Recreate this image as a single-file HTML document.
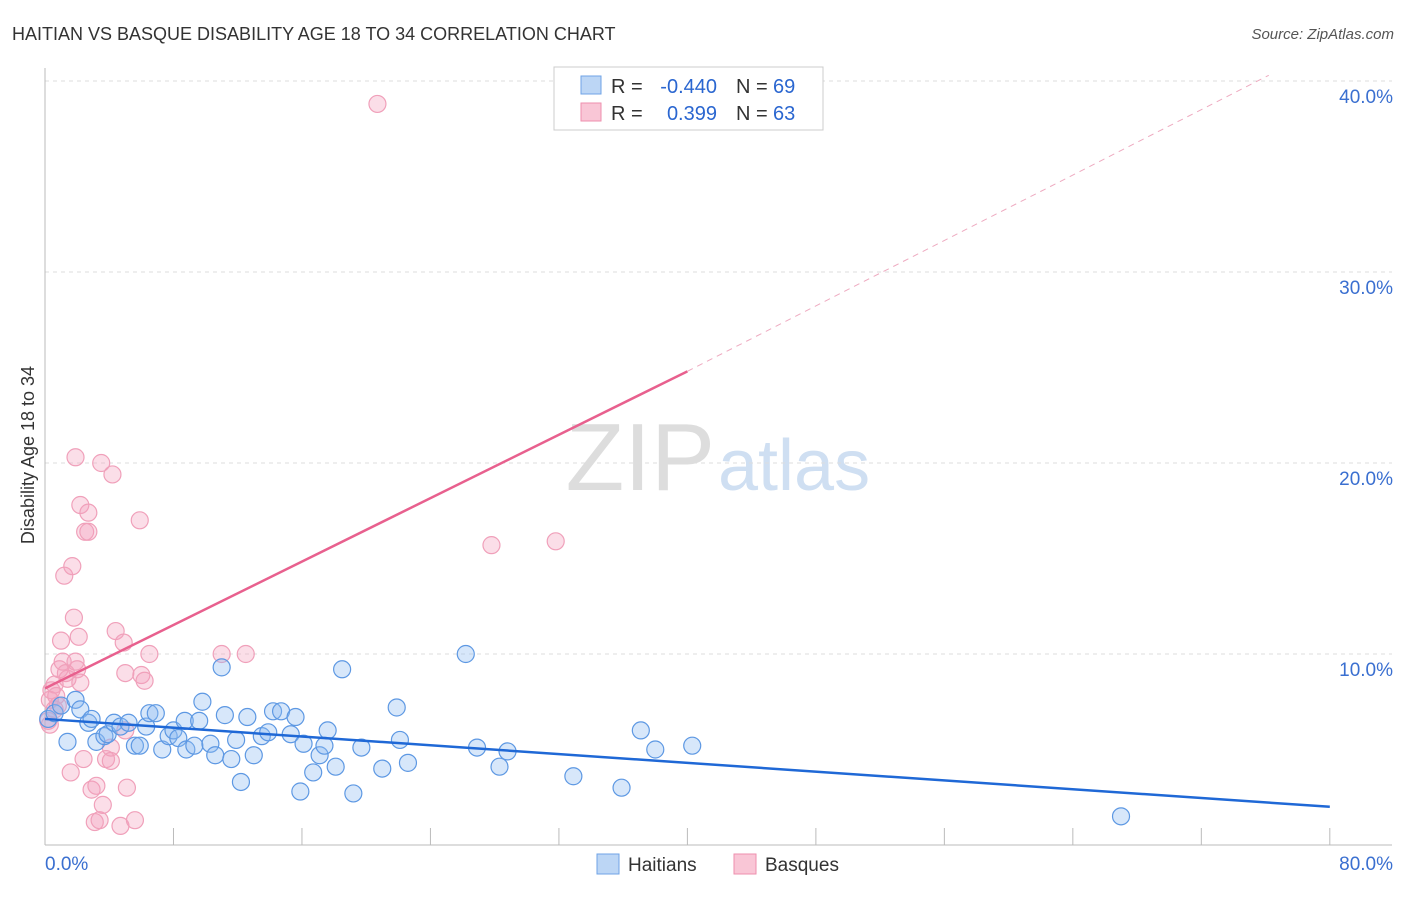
<!DOCTYPE html>
<html><head><meta charset="utf-8"><style>
body{margin:0;background:#fff;font-family:"Liberation Sans",sans-serif}
svg text{font-family:"Liberation Sans",sans-serif}
</style></head><body>
<svg width="1406" height="892" xmlns="http://www.w3.org/2000/svg" id="chart">
<text x="12" y="40" font-size="18" fill="#333">HAITIAN VS BASQUE DISABILITY AGE 18 TO 34 CORRELATION CHART</text>
<text x="1394" y="39" font-size="15" fill="#555" font-style="italic" text-anchor="end">Source: ZipAtlas.com</text>
<text x="715" y="490" font-size="96" fill="#ddd" text-anchor="end" font-family="Liberation Serif">ZIP</text>
<text x="718" y="490" font-size="72" fill="#cfdff2">atlas</text>
<g id="grid"></g><g id="axes"></g>
<text transform="translate(34,455) rotate(-90)" font-size="18" fill="#333" text-anchor="middle">Disability Age 18 to 34</text>
<g id="marks"></g>
<g>
<rect x="554" y="67" width="269" height="63" fill="#fff" stroke="#ccc"/>
<rect x="581" y="76" width="20" height="18" fill="#bcd6f5" stroke="#6fa3e6"/>
<rect x="581" y="103" width="20" height="18" fill="#f9c6d6" stroke="#ee8fae"/>
<text x="611" y="93" font-size="20" fill="#333">R =</text>
<text x="717" y="93" font-size="20" fill="#2a66d0" text-anchor="end">-0.440</text>
<text x="736" y="93" font-size="20" fill="#333">N =</text>
<text x="773" y="93" font-size="20" fill="#2a66d0">69</text>
<text x="611" y="120" font-size="20" fill="#333">R =</text>
<text x="717" y="120" font-size="20" fill="#2a66d0" text-anchor="end">0.399</text>
<text x="736" y="120" font-size="20" fill="#333">N =</text>
<text x="773" y="120" font-size="20" fill="#2a66d0">63</text>
</g>
<g>
<rect x="597" y="854" width="22" height="20" fill="#bcd6f5" stroke="#6fa3e6"/>
<text x="628" y="871" font-size="19" fill="#333">Haitians</text>
<rect x="734" y="854" width="22" height="20" fill="#f9c6d6" stroke="#ee8fae"/>
<text x="765" y="871" font-size="19" fill="#333">Basques</text>
</g>
</svg>
<script>
const NS="http://www.w3.org/2000/svg";
const yTicks=[10,20,30,40];
const yTickLabels=["10.0%","20.0%","30.0%","40.0%"];
const xTickLabels=["0.0%","80.0%"];
const blueX=[0.2,0.6,1,1.4,1.9,2.2,2.7,2.9,3.2,3.7,3.9,4.3,4.7,5.2,5.6,5.9,6.3,6.5,6.9,7.3,7.7,8,8.3,8.7,8.8,9.3,9.6,9.8,10.3,10.6,11,11.2,11.6,11.9,12.2,12.6,13,13.5,13.9,14.2,14.7,15.3,15.6,15.9,16.1,16.7,17.1,17.4,17.6,18.1,18.5,19.2,19.7,21,21.9,22.1,22.6,26.2,26.9,28.3,28.8,32.9,35.9,37.1,38,40.3,67];
const blueY=[6.6,6.9,7.3,5.4,7.6,7.1,6.4,6.6,5.4,5.7,5.8,6.4,6.2,6.4,5.2,5.2,6.2,6.9,6.9,5,5.7,6,5.6,6.5,5,5.2,6.5,7.5,5.3,4.7,9.3,6.8,4.5,5.5,3.3,6.7,4.7,5.7,5.9,7,7,5.8,6.7,2.8,5.3,3.8,4.7,5.2,6,4.1,9.2,2.7,5.1,4,7.2,5.5,4.3,10,5.1,4.1,4.9,3.6,3,6.0,5.0,5.2,1.5];
const pinkX=[20.7,0.2,0.3,0.4,0.6,0.8,0.9,1.0,1.1,1.2,1.4,1.6,1.7,1.8,1.9,2.0,2.1,2.2,2.2,2.4,2.5,2.7,2.7,2.9,3.1,3.2,3.4,3.5,3.6,3.8,4.1,4.1,4.2,4.4,4.7,4.9,5.0,5.0,5.1,5.6,5.9,6.0,6.2,6.5,11,12.5,27.8,31.8,0.3,0.6,0.7,1.3,1.9];
const pinkY=[38.8,6.5,7.6,8.1,8.4,7.3,9.2,10.7,9.6,14.1,8.7,3.8,14.6,11.9,20.3,9.2,10.9,17.8,8.5,4.5,16.4,16.4,17.4,2.9,1.2,3.1,1.3,20.0,2.1,4.5,5.1,4.4,19.4,11.2,1.0,10.6,9.0,6.0,3.0,1.3,17.0,8.9,8.6,10.0,10.0,10.0,15.7,15.9,6.3,7.1,7.8,9.0,9.6];
const blueLine=[[0,6.6],[80,2.0]];
const pinkLine=[[0,8.2],[40,24.8]];
const pinkDash=[[40,24.8],[76.2,40.3]];
const X=v=>45+v*16.06, Y=v=>845-v*19.1;
function mk(t,a,p){const e=document.createElementNS(NS,t);for(const k in a)e.setAttribute(k,a[k]);(p||document.getElementById('marks')).appendChild(e);return e;}
const grid=document.getElementById('grid'),axes=document.getElementById('axes');
yTicks.forEach((t,i)=>{const l=mk('line',{x1:45,x2:1392,y1:Y(t),y2:Y(t),stroke:'#ddd','stroke-dasharray':'4,4'},grid);


const tx=mk('text',{x:1393,y:Y(t)+22,'font-size':19,fill:'#3a6fd0','text-anchor':'end'},axes);tx.textContent=yTickLabels[i];

});
const ax=mk('line',{x1:45,x2:45,y1:68,y2:845,stroke:'#bbb'},axes);


const xa=mk('line',{x1:45,x2:1392,y1:845,y2:845,stroke:'#bbb'},axes);


for(let i=1;i<=10;i++){const t=mk('line',{x1:X(i*8),x2:X(i*8),y1:828,y2:845,stroke:'#bbb'},axes);

}
const xl0=mk('text',{x:45,y:870,'font-size':19,fill:'#3a6fd0'},axes);xl0.textContent=xTickLabels[0];


const xl1=mk('text',{x:1393,y:870,'font-size':19,fill:'#3a6fd0','text-anchor':'end'},axes);xl1.textContent=xTickLabels[1];


pinkX.forEach((v,i)=>{const c=mk('circle',{cx:X(v),cy:Y(pinkY[i]),r:8.5,fill:'rgba(244,160,188,0.35)',stroke:'#f0a0ba','stroke-width':1.2});

});
blueX.forEach((v,i)=>{const c=mk('circle',{cx:X(v),cy:Y(blueY[i]),r:8.5,fill:'rgba(140,185,240,0.35)',stroke:'#5d98e3','stroke-width':1.2});

});
const bl=mk('line',{x1:X(blueLine[0][0]),y1:Y(blueLine[0][1]),x2:X(blueLine[1][0]),y2:Y(blueLine[1][1]),stroke:'#1f68d6','stroke-width':2.5});


const pl=mk('line',{x1:X(pinkLine[0][0]),y1:Y(pinkLine[0][1]),x2:X(pinkLine[1][0]),y2:Y(pinkLine[1][1]),stroke:'#e8608e','stroke-width':2.5});


const pd=mk('line',{x1:X(pinkDash[0][0]),y1:Y(pinkDash[0][1]),x2:X(pinkDash[1][0]),y2:Y(pinkDash[1][1]),stroke:'#eeaac0','stroke-width':1,'stroke-dasharray':'6,5'});


</script>
</body></html>
